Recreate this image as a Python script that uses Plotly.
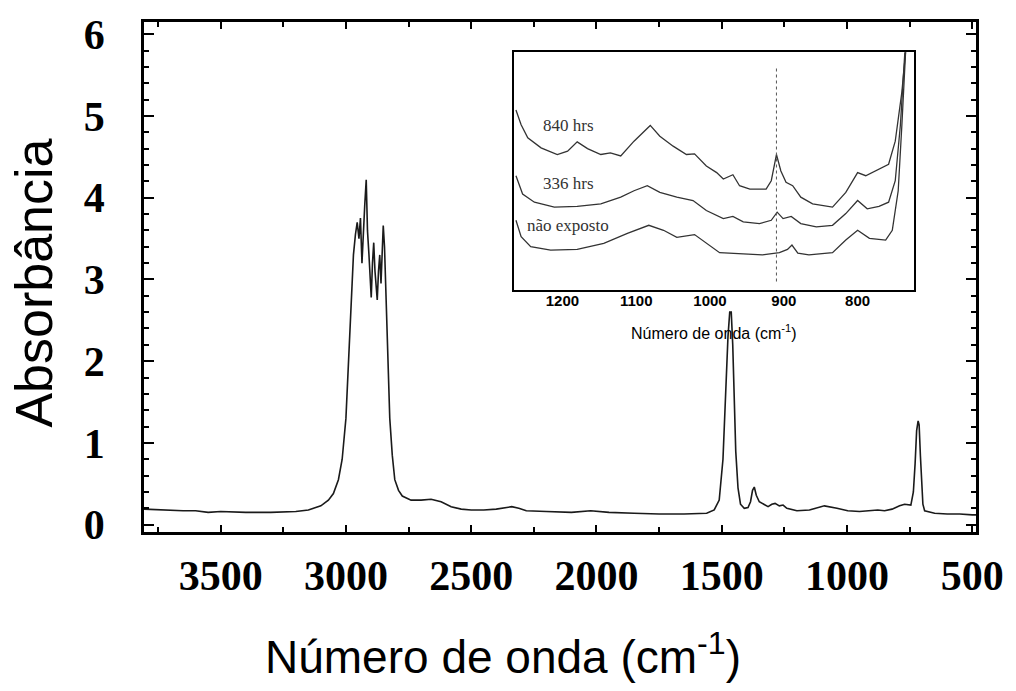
import plotly.graph_objects as go

# ---------------- main spectrum ----------------
wn_main = [3806, 3750, 3700, 3650, 3600, 3550, 3500, 3400, 3300, 3200, 3150, 3100, 3070, 3050,
           3030, 3015, 3000, 2990, 2980, 2970, 2962, 2955, 2948, 2942, 2936, 2930, 2925, 2919,
           2914, 2908, 2903, 2899, 2894, 2889, 2884, 2879, 2875, 2870, 2865, 2860, 2856, 2851,
           2846, 2840, 2832, 2825, 2815, 2805, 2790, 2775, 2740, 2700, 2660, 2620, 2580, 2540,
           2500, 2450, 2400, 2360, 2338, 2310, 2280, 2200, 2100, 2023, 1950, 1850, 1750, 1650,
           1560, 1530, 1510, 1495, 1485, 1475, 1468, 1462, 1456, 1450, 1444, 1435, 1425, 1410,
           1395, 1385, 1377, 1370, 1362, 1350, 1330, 1315, 1300, 1287, 1270, 1255, 1240, 1200,
           1150, 1090, 1040, 997, 950, 900, 877, 850, 820, 790, 770, 745, 735, 728, 722, 716,
           712, 707, 702, 697, 690, 650, 600, 550, 500, 485]
abs_main = [0.19, 0.18, 0.18, 0.17, 0.17, 0.15, 0.16, 0.15, 0.15, 0.16, 0.18, 0.23, 0.30, 0.38,
            0.55, 0.80, 1.30, 2.00, 2.80, 3.30, 3.55, 3.70, 3.50, 3.75, 3.20, 3.50, 3.90, 4.22,
            3.60, 3.30, 2.95, 2.78, 3.20, 3.45, 3.10, 2.85, 2.75, 3.10, 3.30, 2.95, 3.40, 3.66,
            3.40, 2.80, 2.00, 1.30, 0.85, 0.55, 0.42, 0.35, 0.30, 0.30, 0.31, 0.28, 0.22, 0.19,
            0.18, 0.18, 0.19, 0.21, 0.22, 0.20, 0.17, 0.16, 0.15, 0.17, 0.15, 0.14, 0.13, 0.13,
            0.14, 0.18, 0.30, 0.80, 1.60, 2.30, 2.60, 2.60, 2.20, 1.40, 0.90, 0.45, 0.25, 0.20,
            0.21, 0.28, 0.42, 0.46, 0.36, 0.28, 0.24, 0.22, 0.25, 0.26, 0.23, 0.24, 0.20, 0.17,
            0.18, 0.23, 0.20, 0.17, 0.16, 0.17, 0.18, 0.17, 0.19, 0.23, 0.25, 0.24, 0.40, 0.75,
            1.15, 1.27, 1.22, 0.85, 0.45, 0.25, 0.17, 0.14, 0.13, 0.13, 0.12, 0.12]

# ---------------- inset spectra (arbitrary units) ----------------
wn_840 = [1263, 1256, 1247, 1229, 1207, 1193, 1180, 1166, 1148, 1135, 1121, 1103, 1081, 1068,
          1050, 1032, 1021, 1005, 991, 982, 969, 960, 946, 924, 917, 910, 904, 897, 888, 877,
          861, 834, 816, 800, 789, 771, 758, 749, 740, 735]
ab_840 = [7.55, 6.93, 6.38, 5.96, 5.68, 5.82, 6.21, 5.93, 5.68, 5.75, 5.62, 6.24, 6.90, 6.45,
          6.03, 5.68, 5.71, 5.20, 4.92, 4.65, 4.83, 4.37, 4.23, 4.23, 4.58, 5.68, 4.99, 4.51,
          4.37, 3.89, 3.61, 3.47, 4.09, 4.92, 4.79, 5.06, 5.27, 6.24, 8.31, 9.97]

wn_336 = [1263, 1254, 1238, 1211, 1180, 1148, 1121, 1103, 1085, 1068, 1045, 1023, 1005, 982,
          969, 955, 933, 917, 909, 901, 890, 877, 856, 834, 816, 800, 787, 771, 758, 749, 742, 736]
ab_336 = [4.79, 4.02, 3.68, 3.47, 3.50, 3.61, 3.89, 4.16, 4.37, 4.09, 3.89, 3.75, 3.33, 2.99,
          3.08, 2.85, 2.78, 2.92, 3.26, 2.99, 3.08, 2.78, 2.64, 2.71, 3.20, 3.75, 3.40, 3.50,
          3.68, 4.58, 6.93, 9.97]

wn_0 = [1263, 1256, 1243, 1216, 1180, 1144, 1112, 1083, 1063, 1045, 1021, 1005, 987, 955, 929,
        906, 895, 889, 881, 866, 834, 816, 800, 784, 762, 753, 745, 740, 735]
ab_0 = [2.92, 2.23, 1.81, 1.67, 1.70, 1.95, 2.37, 2.71, 2.50, 2.20, 2.32, 1.95, 1.56, 1.51, 1.47,
        1.56, 1.70, 1.88, 1.54, 1.47, 1.56, 2.09, 2.50, 2.16, 2.09, 2.50, 4.16, 6.93, 9.97]

inset_labels = ["840 hrs", "336 hrs", "não exposto"]
inset_label_y = [6.9, 4.45, 2.72]
ref_line_x = [910, 910]
ref_line_y = [0.35, 9.3]

main_xticks = [3500, 3000, 2500, 2000, 1500, 1000, 500]
main_yticks = [0, 1, 2, 3, 4, 5, 6]
inset_xticks = [1200, 1100, 1000, 900, 800]

LINE = "#1a1a1a"

fig = go.Figure()
fig.add_trace(go.Scatter(x=wn_main, y=abs_main, mode="lines",
                         line=dict(color=LINE, width=1.6), showlegend=False))
for wx, wy in [(wn_840, ab_840), (wn_336, ab_336), (wn_0, ab_0)]:
    fig.add_trace(go.Scatter(x=wx, y=wy, mode="lines", xaxis="x2", yaxis="y2",
                             line=dict(color="#333333", width=1.3), showlegend=False))
fig.add_trace(go.Scatter(x=ref_line_x, y=ref_line_y, mode="lines", xaxis="x2", yaxis="y2",
                         line=dict(color="#555555", width=1, dash="dot"), showlegend=False))

serif_bold = dict(family="Liberation Serif", size=42, color="black", weight="bold")

fig.update_layout(
    width=1016, height=691,
    margin=dict(l=144, r=35, t=16, b=159),
    paper_bgcolor="white", plot_bgcolor="white",
    xaxis=dict(range=[3806, 485], domain=[0, 1], tickvals=main_xticks,
               ticks="inside", ticklen=7, tickwidth=1.5, tickcolor="black",
               minor=dict(dtick=250, tick0=500, ticks="inside", ticklen=5, tickcolor="black"),
               showline=True, linecolor="black", linewidth=2.5, mirror="ticks",
               showgrid=False, zeroline=False, tickfont=serif_bold, ticklabelstandoff=5),
    yaxis=dict(range=[-0.09, 6.15], domain=[0, 1], tickvals=main_yticks,
               ticks="inside", ticklen=10, tickwidth=2, tickcolor="black",
               minor=dict(dtick=0.2, tick0=0, ticks="inside", ticklen=5, tickcolor="black"),
               showline=True, linecolor="black", linewidth=2.5, mirror="ticks",
               showgrid=False, zeroline=False, tickfont=serif_bold, ticklabelstandoff=28),
    xaxis2=dict(range=[1266, 723], domain=[0.4444, 0.926], anchor="y2",
                tickvals=inset_xticks, ticks="", showline=True, linecolor="black",
                linewidth=1.5, mirror=True, showgrid=False, zeroline=False,
                tickfont=dict(family="Liberation Sans", size=15, color="black", weight="bold"),
                ticklabelstandoff=-4),
    yaxis2=dict(range=[0, 10], domain=[0.4748, 0.942], anchor="x2", showticklabels=False,
                ticks="", showline=True, linecolor="black", linewidth=1.5, mirror=True,
                showgrid=False, zeroline=False),
)

# axis titles
fig.add_annotation(text="Número de onda (cm<sup>-1</sup>)", xref="paper", yref="paper",
                   x=(505 - 144) / 837, y=-(655 - 532) / 516, xanchor="center", yanchor="middle",
                   showarrow=False, font=dict(family="Liberation Sans", size=46, color="black"))
fig.add_annotation(text="Absorbância", xref="paper", yref="paper",
                   x=-(144 - 33) / 837, y=(532 - 280) / 516, xanchor="center", yanchor="middle",
                   textangle=-90, showarrow=False,
                   font=dict(family="Liberation Sans", size=52, color="black"))
# inset title
fig.add_annotation(text="Número de onda (cm<sup>-1</sup>)", xref="x2", yref="paper",
                   x=994, y=-(330 - 532) / 516, xanchor="center", yanchor="middle",
                   showarrow=False, font=dict(family="Liberation Sans", size=16, color="black"))
# inset curve labels
for lab, ly in zip(inset_labels, inset_label_y):
    fig.add_annotation(text=lab, xref="x2", yref="y2", x=1192,
                       y=ly, xanchor="center", yanchor="middle", showarrow=False,
                       font=dict(family="Liberation Serif", size=17, color="#333333"))

fig.write_html("out.html")
